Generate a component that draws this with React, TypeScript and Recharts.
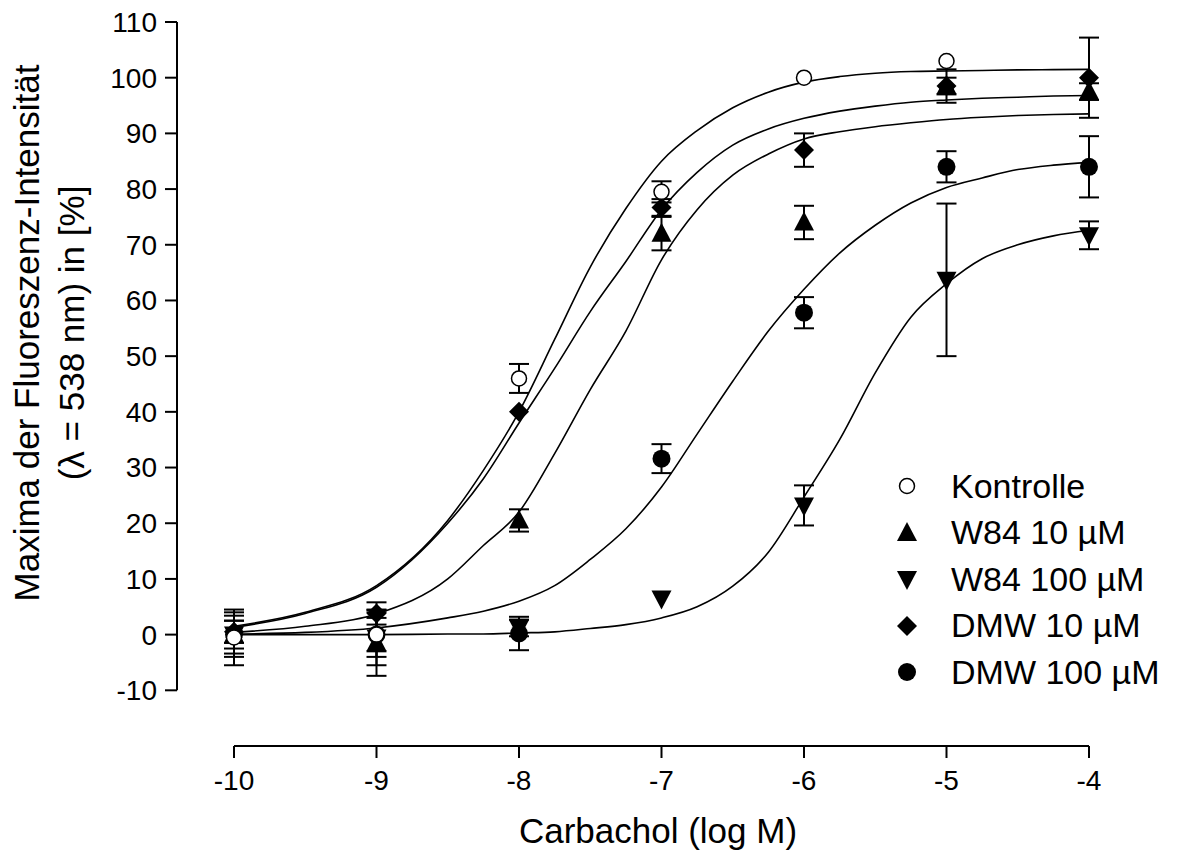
import { ComposedChart, Line, Scatter, XAxis, YAxis, ErrorBar, ReferenceLine, Legend } from 'recharts'

const FONT = '"Liberation Sans", Arial, Helvetica, sans-serif'

// measured log concentrations
const doses = [-10, -9, -8, -7, -6, -5, -4]

// mean values and SEM (null = no point)
const kontrolleY = [-0.5, 0, 46, 79.5, 100, 103, null]
const kontrolleErr = [5, 4, 2.6, 1.9, 0, 0, 0]
const w84_10Y = [0, -1.5, 20.5, 72, 74, 98.5, 97.5]
const w84_10Err = [3.4, 5.9, 2, 3, 3, 3, 1.5]
const w84_100Y = [0, -0.5, 1.2, 6.5, 23.2, 63.7, 71.7]
const w84_100Err = [2.5, 5, 1.5, 0, 3.6, 13.7, 2.5]
const dmw10Y = [0.5, 3.8, 40, 76.7, 87, 98.5, 100]
const dmw10Err = [2, 2, 0, 1.5, 3, 1.5, 7.2]
const dmw100Y = [0, 0, 0.2, 31.6, 57.8, 84, 84]
const dmw100Err = [4, 3, 3, 2.6, 2.8, 2.8, 5.5]

// fitted curves
const curveX = [-10, -9.5, -9, -8.5, -8.25, -8, -7.75, -7.5, -7.25, -7, -6.75, -6.5, -6.25, -6, -5.75, -5.5, -5.25, -5, -4.75, -4.5, -4.25, -4]
const kontrolleFit = [1.5, 4, 8.8, 20.5, 29.5, 40, 53, 66, 76.5, 85, 90.5, 94.6, 97.4, 99.2, 100.2, 100.8, 101.1, 101.2, 101.3, 101.4, 101.45, 101.5]
const dmw10Fit = [1.3, 3.8, 8.5, 20, 28, 38, 47.8, 58, 67, 76.3, 83, 87.9, 90.8, 92.7, 94, 94.9, 95.6, 96, 96.3, 96.5, 96.7, 96.8]
const w84_10Fit = [0.4, 1.5, 3.7, 10, 16, 22, 32.5, 44, 54.5, 67.3, 76.3, 82.5, 86.3, 89, 90.3, 91.2, 91.9, 92.5, 92.9, 93.2, 93.4, 93.5]
const dmw100Fit = [0.1, 0.4, 1.2, 3, 4.2, 6, 8.8, 13.5, 19, 26.5, 36, 45.5, 54.5, 62, 68.5, 73.5, 77.5, 80.3, 82, 83.5, 84.3, 84.8]
const w84_100Fit = [0, 0, 0, 0.1, 0.1, 0.3, 0.5, 1.1, 1.8, 3, 5, 8.7, 14.8, 24.7, 35, 47, 57, 63, 67.5, 70, 71.6, 72.6]

const xTicks = [-10, -9, -8, -7, -6, -5, -4]
const yTicks = [-10, 0, 10, 20, 30, 40, 50, 60, 70, 80, 90, 100, 110]

type Kind = 'open' | 'up' | 'down' | 'diamond' | 'dot'

const series: { name: string; kind: Kind; ys: (number | null)[]; errs: number[]; fit: number[] }[] = [
  { name: 'Kontrolle', kind: 'open', ys: kontrolleY, errs: kontrolleErr, fit: kontrolleFit },
  { name: 'W84 10 µM', kind: 'up', ys: w84_10Y, errs: w84_10Err, fit: w84_10Fit },
  { name: 'W84 100 µM', kind: 'down', ys: w84_100Y, errs: w84_100Err, fit: w84_100Fit },
  { name: 'DMW 10 µM', kind: 'diamond', ys: dmw10Y, errs: dmw10Err, fit: dmw10Fit },
  { name: 'DMW 100 µM', kind: 'dot', ys: dmw100Y, errs: dmw100Err, fit: dmw100Fit },
]

const points = (s: typeof series[number]) =>
  doses
    .map((x, i) => ({ x, y: s.ys[i], e: s.errs[i] }))
    .filter((p) => p.y !== null)

const curve = (s: typeof series[number]) => curveX.map((x, i) => ({ x, y: s.fit[i] }))

function Marker({ kind, cx, cy }: { kind: Kind; cx: number; cy: number }) {
  if (kind === 'open') return <circle cx={cx} cy={cy} r={7.5} fill="#fff" stroke="#000" strokeWidth={1.5} />
  if (kind === 'dot') return <circle cx={cx} cy={cy} r={9} fill="#000" />
  if (kind === 'up')
    return <polygon points={`${cx},${cy - 11} ${cx + 10},${cy + 8} ${cx - 10},${cy + 8}`} fill="#000" />
  if (kind === 'down')
    return <polygon points={`${cx},${cy + 11} ${cx + 10},${cy - 8} ${cx - 10},${cy - 8}`} fill="#000" />
  return <polygon points={`${cx},${cy - 10} ${cx + 10},${cy} ${cx},${cy + 10} ${cx - 10},${cy}`} fill="#000" />
}

const YTitle = () => (
  <text transform="translate(39,333) rotate(-90)" textAnchor="middle" fontFamily={FONT} fontSize={35} fill="#000">
    <tspan x={0} y={0}>Maxima der Fluoreszenz-Intensität</tspan>
    <tspan x={0} y={45}>(λ = 538 nm) in [%]</tspan>
  </text>
)

const XTitle = () => (
  <text x={658} y={843} textAnchor="middle" fontFamily={FONT} fontSize={35} fill="#000">
    Carbachol (log M)
  </text>
)

const renderLegend = () => (
  <div style={{ fontFamily: FONT, fontSize: 34, color: '#000' }}>
    {series.map((s) => (
      <div key={s.name} style={{ display: 'flex', alignItems: 'center', height: 46.5, whiteSpace: 'nowrap' }}>
        <svg width={30} height={30}>
          <Marker kind={s.kind} cx={15} cy={15} />
        </svg>
        <span style={{ marginLeft: 29 }}>{s.name}</span>
      </div>
    ))}
  </div>
)

// draw order: open circles on top
const drawOrder = [2, 4, 1, 3, 0]

export default function App() {
  const tick = { fontSize: 28, fill: '#000', fontFamily: FONT }
  return (
    <div style={{ position: 'absolute', left: 0, top: 0, background: '#fff' }}>
      <ComposedChart width={1182} height={852} margin={{ top: 22, right: 93, left: 57, bottom: 46 }}>
        <XAxis
          type="number"
          dataKey="x"
          domain={[-10.4, -4]}
          ticks={xTicks}
          axisLine={false}
          tickLine={{ stroke: '#000', strokeWidth: 2 }}
          tickSize={12}
          tickMargin={12}
          tick={tick}
          height={60}
          label={<XTitle />}
        />
        <YAxis
          type="number"
          dataKey="y"
          domain={[-20, 110]}
          ticks={yTicks}
          axisLine={false}
          tickLine={{ stroke: '#000', strokeWidth: 2 }}
          tickSize={12}
          tickMargin={8}
          tick={tick}
          width={120}
          label={<YTitle />}
        />
        <ReferenceLine
          segment={[{ x: -10, y: -20 }, { x: -4, y: -20 }]}
          stroke="#000"
          strokeWidth={2}
          ifOverflow="visible"
        />
        <ReferenceLine
          segment={[{ x: -10.4, y: -10 }, { x: -10.4, y: 110 }]}
          stroke="#000"
          strokeWidth={2}
          ifOverflow="visible"
        />
        {series.map((s) => (
          <Line
            key={'fit-' + s.name}
            data={curve(s)}
            dataKey="y"
            type="monotone"
            stroke="#000"
            strokeWidth={1.6}
            dot={false}
            activeDot={false}
            legendType="none"
            isAnimationActive={false}
          />
        ))}
        {drawOrder.map((i) => {
          const s = series[i]
          return (
            <Scatter
              key={'pts-' + s.name}
              name={s.name}
              data={points(s)}
              dataKey="y"
              isAnimationActive={false}
              shape={(p: any) => <Marker kind={s.kind} cx={p.cx} cy={p.cy} />}
            >
              <ErrorBar dataKey="e" direction="y" width={10} stroke="#000" strokeWidth={2} />
            </Scatter>
          )
        })}
        <Legend
          content={renderLegend}
          layout="horizontal"
          verticalAlign="middle"
          align="center"
          wrapperStyle={{ position: 'absolute', left: 892, top: 463, width: 290 }}
        />
      </ComposedChart>
    </div>
  )
}
